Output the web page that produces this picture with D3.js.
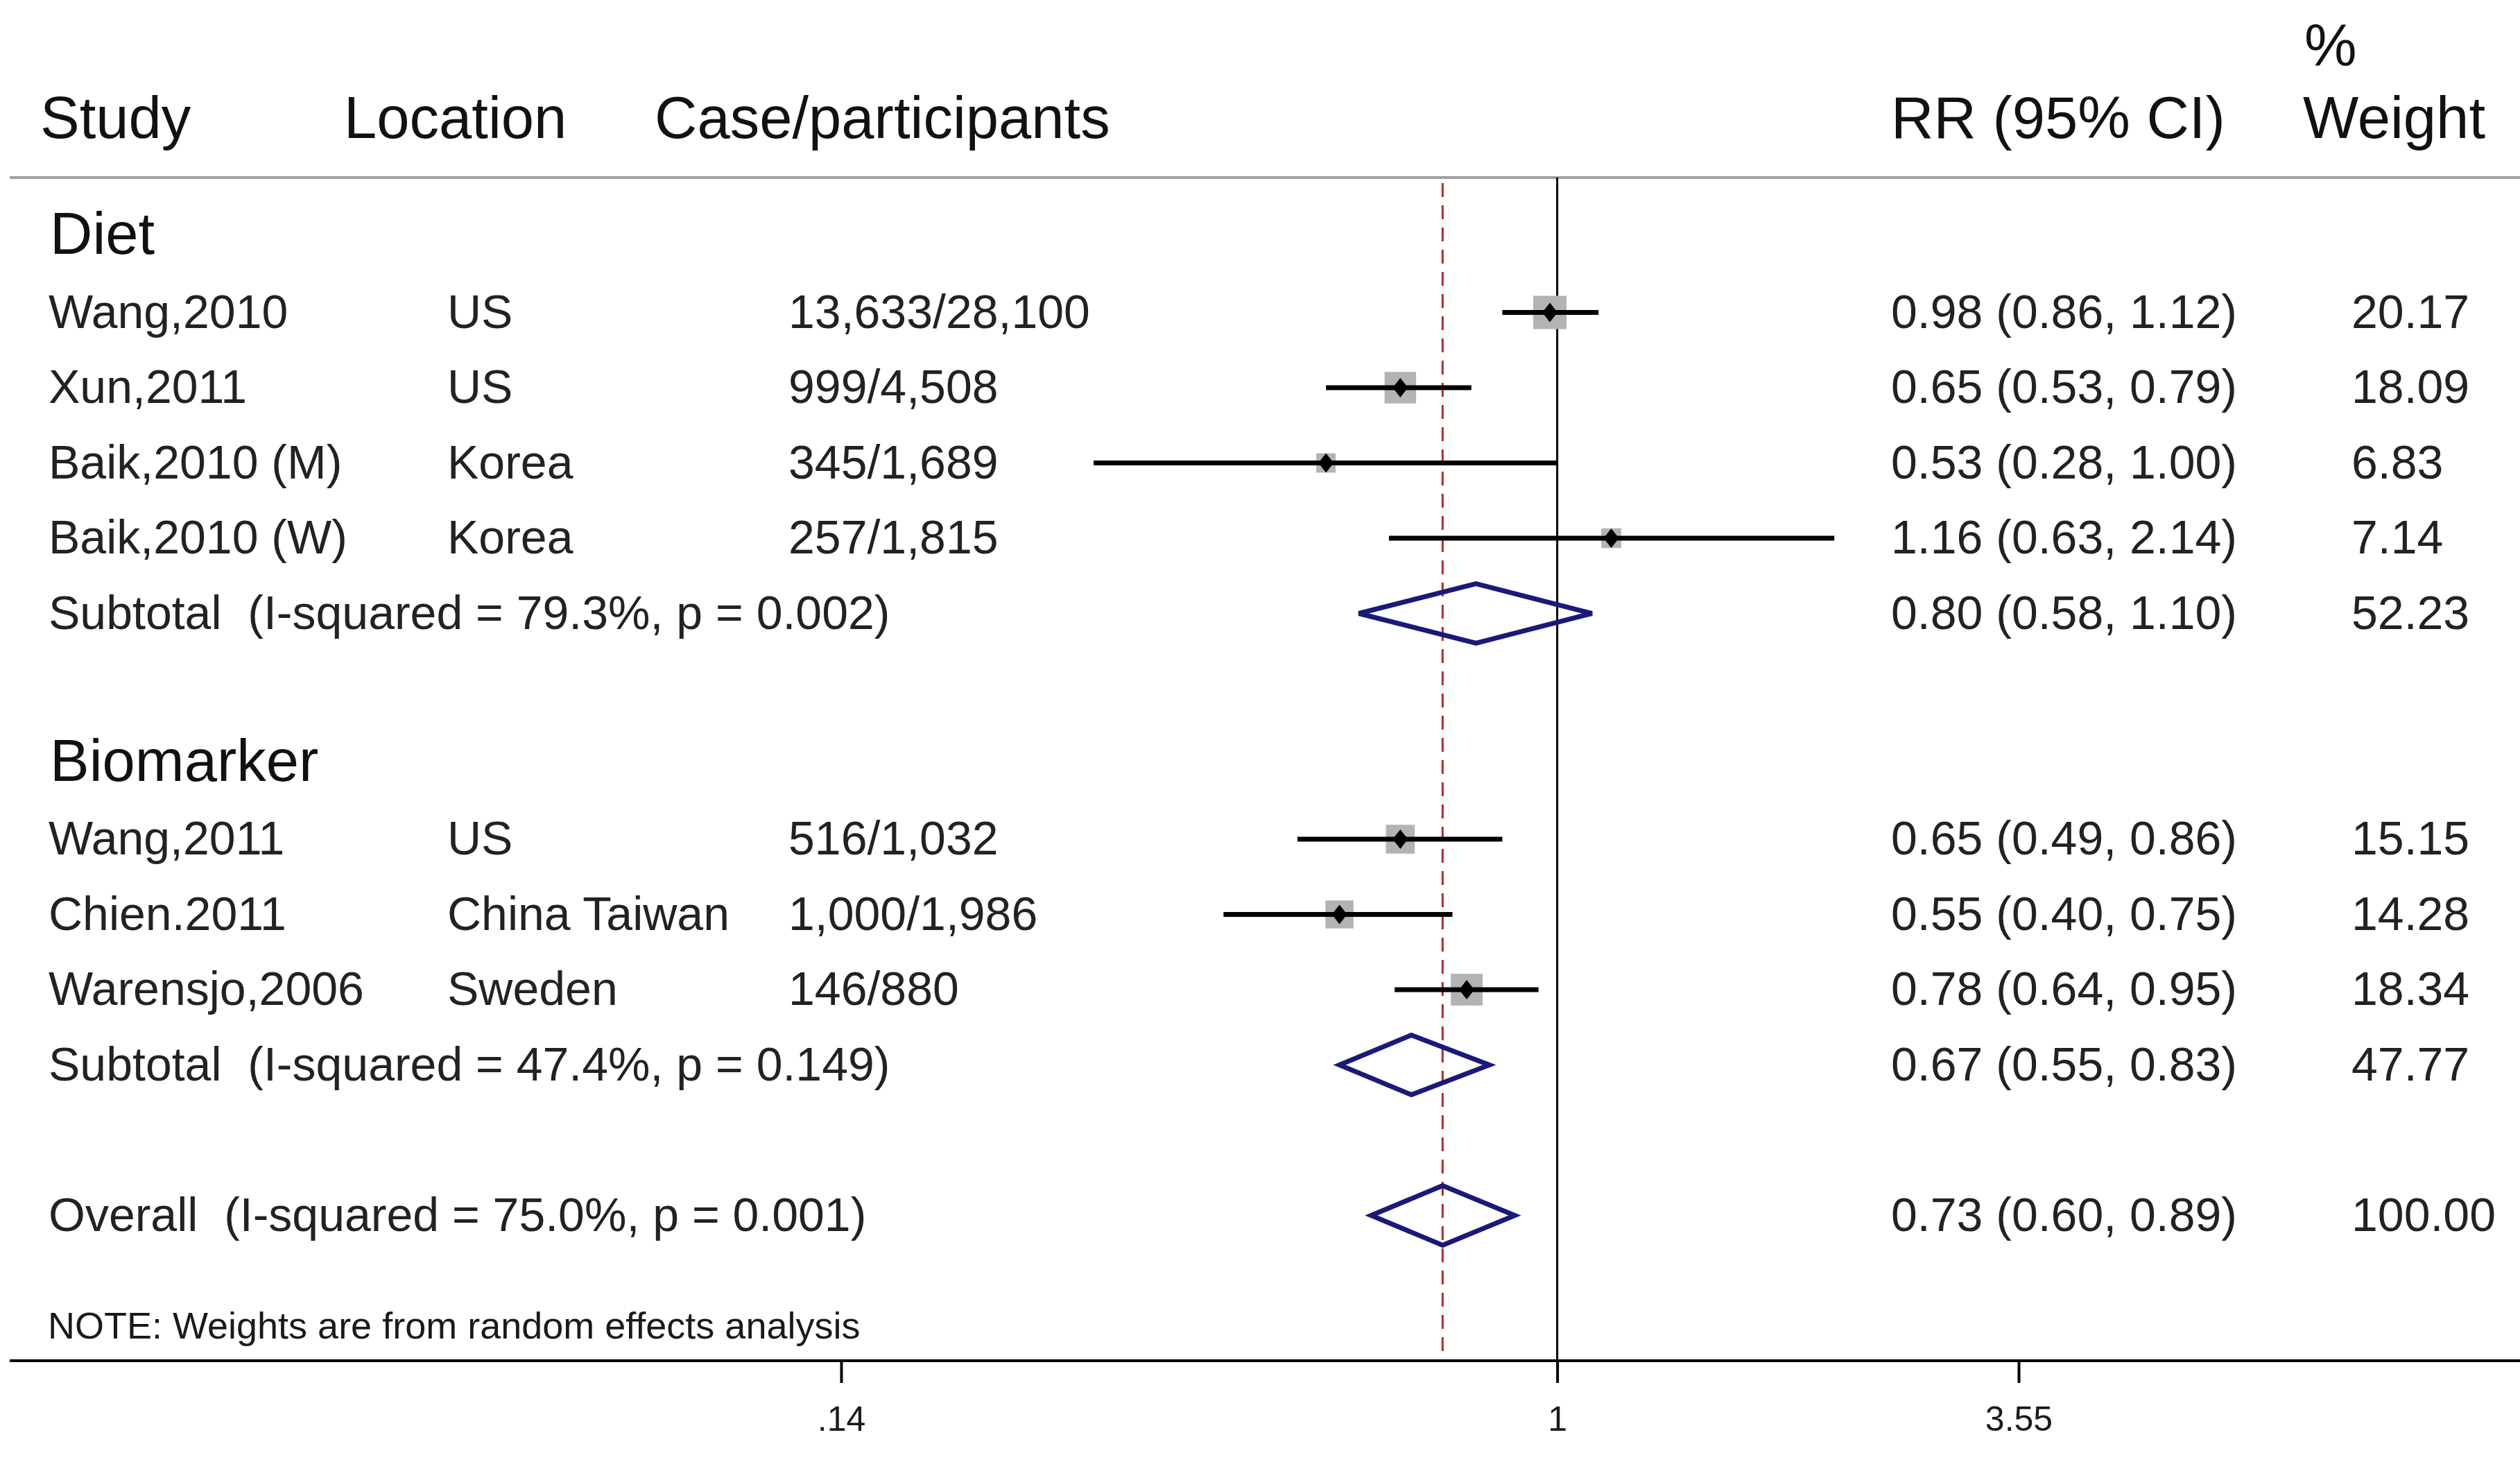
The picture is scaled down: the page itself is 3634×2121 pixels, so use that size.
<!DOCTYPE html>
<html>
<head>
<meta charset="utf-8">
<script src="https://cdn.jsdelivr.net/npm/d3@7"></script>
<style>
  body { margin: 0; background: #fff; }
  text { font-family: "Liberation Sans", Arial, sans-serif; white-space: pre; }
</style>
</head>
<body>
<div id="wrapper"></div>
<script>
// Data
const groupNames = ["Diet", "Biomarker"];
const studyNames = ["Wang,2010", "Xun,2011", "Baik,2010 (M)", "Baik,2010 (W)",
                    "Wang,2011", "Chien.2011", "Warensjo,2006"];
const studyGroup = [0, 0, 0, 0, 1, 1, 1];
const locations = ["US", "US", "Korea", "Korea", "US", "China Taiwan", "Sweden"];
const caseParticipants = ["13,633/28,100", "999/4,508", "345/1,689", "257/1,815",
                          "516/1,032", "1,000/1,986", "146/880"];
const rrValues = [0.98, 0.65, 0.53, 1.16, 0.65, 0.55, 0.78];
const ciLower = [0.86, 0.53, 0.28, 0.63, 0.49, 0.40, 0.64];
const ciUpper = [1.12, 0.79, 1.00, 2.14, 0.86, 0.75, 0.95];
const weights = [20.17, 18.09, 6.83, 7.14, 15.15, 14.28, 18.34];

const subtotalLabels = ["Subtotal  (I-squared = 79.3%, p = 0.002)",
                        "Subtotal  (I-squared = 47.4%, p = 0.149)"];
const subtotalRR = [0.80, 0.67];
const subtotalLower = [0.58, 0.55];
const subtotalUpper = [1.10, 0.83];
const subtotalWeights = [52.23, 47.77];

const overallLabel = "Overall  (I-squared = 75.0%, p = 0.001)";
const overallRR = 0.73, overallLower = 0.60, overallUpper = 0.89, overallWeight = 100.00;

const headerLabels = ["Study", "Location", "Case/participants", "RR (95% CI)", "Weight"];
const tickValues = [0.14, 1, 3.55];
const tickLabels = [".14", "1", "3.55"];
const noteText = "NOTE: Weights are from random effects analysis";

function drawChart() {
  const dimensions = {
    width: 3634,
    height: 2121,
    headerLineY: 256,
    axisY: 1962,
    firstRowY: 342,
    rowStep: 108.5,
  };

  const svg = d3.select("#wrapper")
    .append("svg")
    .attr("width", dimensions.width)
    .attr("height", dimensions.height);

  // build row layout: group header, studies, subtotal, blank ... overall
  const rows = [];
  let r = 0;
  groupNames.forEach((g, gi) => {
    rows.push({ type: "group", row: r++, label: g });
    studyNames.forEach((s, i) => {
      if (studyGroup[i] !== gi) return;
      rows.push({ type: "study", row: r++, label: s, loc: locations[i], cases: caseParticipants[i],
                  rr: rrValues[i], lo: ciLower[i], hi: ciUpper[i], w: weights[i] });
    });
    rows.push({ type: "pooled", row: r++, label: subtotalLabels[gi],
                rr: subtotalRR[gi], lo: subtotalLower[gi], hi: subtotalUpper[gi], w: subtotalWeights[gi] });
    r++; // blank line
  });
  rows.push({ type: "pooled", row: r, label: overallLabel,
              rr: overallRR, lo: overallLower, hi: overallUpper, w: overallWeight });

  // scales
  const xScale = d3.scaleLog().domain([0.14, 3.55]).range([1213, 2911]);
  const yScale = d3.scaleLinear()
    .domain([0, 1])
    .range([dimensions.firstRowY, dimensions.firstRowY + dimensions.rowStep]);
  const sizeScale = d3.scaleSqrt().domain([0, 20.17]).range([0, 48]);

  const colX = { study: 70, loc: 645, cases: 1137, rr: 2727, w: 3391 };
  const headerX = [58, 496, 944, 2727, 3321];

  // header
  svg.selectAll("text.header")
    .data(headerLabels)
    .join("text")
    .attr("class", "header")
    .attr("x", (d, i) => headerX[i])
    .attr("y", 199)
    .style("font-size", "85px")
    .style("fill", "#111")
    .text((d) => d);
  svg.append("text")
    .attr("x", 3323).attr("y", 95)
    .style("font-size", "85px").style("fill", "#111")
    .text("%");

  svg.append("line")
    .attr("x1", 14).attr("x2", dimensions.width)
    .attr("y1", dimensions.headerLineY).attr("y2", dimensions.headerLineY)
    .attr("stroke", "#a0a0a0").attr("stroke-width", 4);

  // reference lines
  svg.append("line")
    .attr("x1", xScale(1)).attr("x2", xScale(1))
    .attr("y1", dimensions.headerLineY).attr("y2", dimensions.axisY)
    .attr("stroke", "#000").attr("stroke-width", 3);

  svg.append("line")
    .attr("x1", xScale(overallRR)).attr("x2", xScale(overallRR))
    .attr("y1", 264).attr("y2", dimensions.axisY)
    .attr("stroke", "#b22a2a").attr("stroke-width", 3)
    .attr("stroke-dasharray", "20,12");

  // row texts
  const textRows = svg.append("g");
  rows.forEach((d) => {
    const y = yScale(d.row);
    if (d.type === "group") {
      textRows.append("text").attr("x", 72).attr("y", y + 24)
        .style("font-size", "85px").style("fill", "#111").text(d.label);
      return;
    }
    const base = y + 22;
    const add = (x, t) => textRows.append("text").attr("x", x).attr("y", base)
      .style("font-size", "68px").style("fill", "#222").text(t);
    add(colX.study, d.label);
    if (d.type === "study") {
      add(colX.loc, d.loc);
      add(colX.cases, d.cases);
    }
    add(colX.rr, `${d.rr.toFixed(2)} (${d.lo.toFixed(2)}, ${d.hi.toFixed(2)})`);
    add(colX.w, d.w.toFixed(2));
  });

  // study marks
  const studyRows = rows.filter((d) => d.type === "study");
  const marks = svg.append("g");
  marks.selectAll("rect")
    .data(studyRows)
    .join("rect")
    .attr("x", (d) => xScale(d.rr) - sizeScale(d.w) / 2)
    .attr("y", (d) => yScale(d.row) - sizeScale(d.w) / 2)
    .attr("width", (d) => sizeScale(d.w))
    .attr("height", (d) => sizeScale(d.w))
    .attr("fill", "#b3b3b3");
  marks.selectAll("line")
    .data(studyRows)
    .join("line")
    .attr("x1", (d) => xScale(d.lo))
    .attr("x2", (d) => xScale(d.hi))
    .attr("y1", (d) => yScale(d.row))
    .attr("y2", (d) => yScale(d.row))
    .attr("stroke", "#000")
    .attr("stroke-width", 7);
  marks.selectAll("path")
    .data(studyRows)
    .join("path")
    .attr("d", (d) => {
      const cx = xScale(d.rr), cy = yScale(d.row);
      return `M${cx - 11},${cy}L${cx},${cy - 14}L${cx + 11},${cy}L${cx},${cy + 14}Z`;
    })
    .attr("fill", "#000");

  // pooled diamonds
  const pooledRows = rows.filter((d) => d.type === "pooled");
  svg.append("g").selectAll("path")
    .data(pooledRows)
    .join("path")
    .attr("d", (d) => {
      const cy = yScale(d.row);
      return `M${xScale(d.lo)},${cy}L${xScale(d.rr)},${cy - 43}L${xScale(d.hi)},${cy}L${xScale(d.rr)},${cy + 43}Z`;
    })
    .attr("fill", "none")
    .attr("stroke", "#1a1a7a")
    .attr("stroke-width", 7);

  // note
  svg.append("text")
    .attr("x", 69).attr("y", 1930)
    .style("font-size", "54px").style("fill", "#1a1a1a")
    .text(noteText);

  // x axis
  svg.append("line")
    .attr("x1", 14).attr("x2", dimensions.width)
    .attr("y1", dimensions.axisY).attr("y2", dimensions.axisY)
    .attr("stroke", "#000").attr("stroke-width", 4);

  const xAxisGenerator = d3.axisBottom(xScale)
    .tickValues(tickValues)
    .tickFormat((d, i) => tickLabels[i])
    .tickSize(32)
    .tickPadding(33);
  const xAxis = svg.append("g")
    .attr("transform", `translate(0, ${dimensions.axisY})`)
    .call(xAxisGenerator);
  xAxis.select(".domain").remove();
  xAxis.selectAll(".tick line").attr("stroke", "#000").attr("stroke-width", 4);
  xAxis.selectAll(".tick text")
    .style("font-size", "50px")
    .style("font-family", "'Liberation Sans', Arial, sans-serif")
    .style("fill", "#1a1a1a");
}

drawChart();
</script>
</body>
</html>
